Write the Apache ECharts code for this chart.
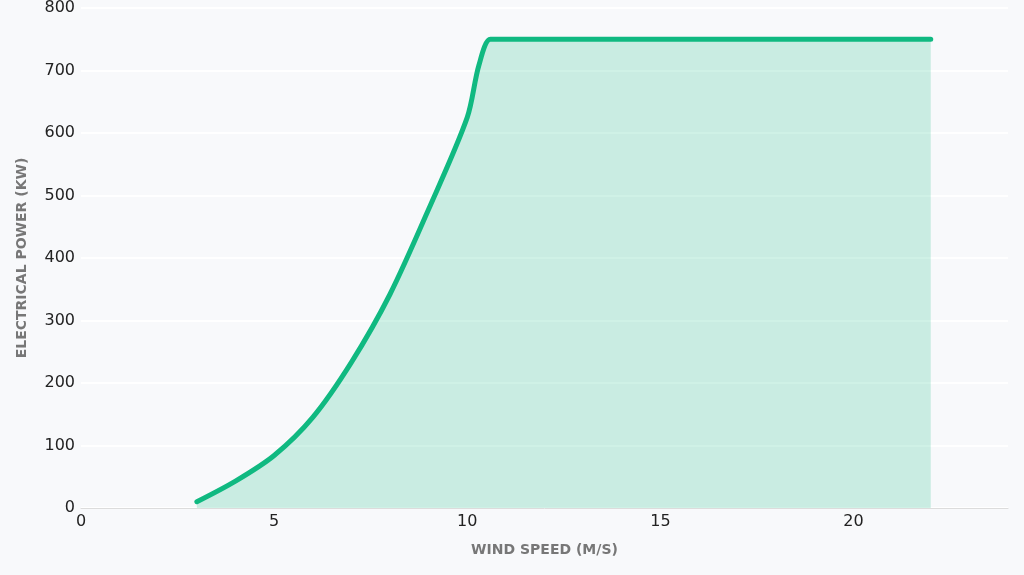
<!DOCTYPE html>
<html>
<head>
<meta charset="utf-8">
<script src="https://cdn.jsdelivr.net/npm/echarts@6/dist/echarts.min.js"></script>
<style>
html,body{margin:0;padding:0;background:#f8f9fb;}
#c{width:1024px;height:575px;}
</style>
</head>
<body>
<div id="c"></div>
<script>
const windSpeed = [3, 4, 5, 6, 7, 8, 9, 10, 10.3, 10.6, 11, 12, 13, 14, 15, 16, 17, 18, 19, 20, 21, 22];
const powerKW   = [10, 43, 84, 145, 233, 342, 478, 625, 708, 750, 750, 750, 750, 750, 750, 750, 750, 750, 750, 750, 750, 750];
const xTicks = [0, 5, 10, 15, 20];
const xName = 'WIND SPEED (M/S)';
const yName = 'ELECTRICAL POWER (KW)';

const chart = echarts.init(document.getElementById('c'), null, {renderer: 'canvas'});
chart.setOption({
  backgroundColor: '#f8f9fb',
  animation: false,
  grid: {left: 81, right: 16, top: 7, bottom: 67},
  xAxis: {
    type: 'value', min: 0, max: 24, interval: 5,
    name: xName, nameLocation: 'middle', nameGap: 35,
    nameTextStyle: {fontFamily: 'DejaVu Sans', fontWeight: 'bold', fontSize: 14, color: '#777'},
    axisLine: {show: true, lineStyle: {color: '#dcdcdc', width: 1}},
    axisTick: {show: false},
    splitLine: {show: false},
    axisLabel: {fontFamily: 'DejaVu Sans', fontSize: 16, color: '#222', margin: 6,
      customValues: xTicks}
  },
  yAxis: {
    type: 'value', min: 0, max: 800, interval: 100,
    name: yName, nameLocation: 'middle', nameGap: 52,
    nameTextStyle: {fontFamily: 'DejaVu Sans', fontWeight: 'bold', fontSize: 14, color: '#777'},
    axisLine: {show: false},
    axisTick: {show: false},
    splitLine: {show: true, lineStyle: {color: '#ffffff', width: 2}},
    axisLabel: {fontFamily: 'DejaVu Sans', fontSize: 16, color: '#222', margin: 6}
  },
  series: [{
    type: 'line',
    data: windSpeed.map((x, i) => [x, powerKW[i]]),
    smooth: 0.3,
    showSymbol: false,
    lineStyle: {color: '#10b981', width: 5, cap: 'round', join: 'round'},
    areaStyle: {color: 'rgba(16,185,129,0.2)', opacity: 1}
  }]
});
</script>
</body>
</html>
